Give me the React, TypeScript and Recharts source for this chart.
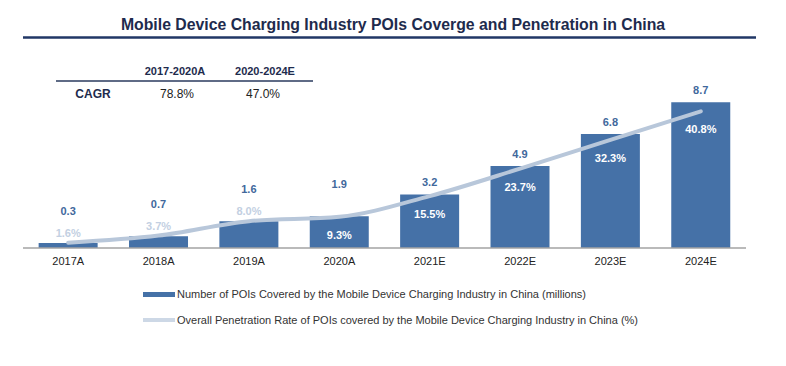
import React from 'react';
import { ComposedChart, Bar, Line, XAxis, YAxis, LabelList, Legend } from 'recharts';

// ---- data ----
const categories = ['2017A', '2018A', '2019A', '2020A', '2021E', '2022E', '2023E', '2024E'];
const poiMillions = [0.3, 0.7, 1.6, 1.9, 3.2, 4.9, 6.8, 8.7];
const penetrationPct = [1.6, 3.7, 8.0, 9.3, 15.5, 23.7, 32.3, 40.8];
const cagrPeriods = ['2017-2020A', '2020-2024E'];
const cagrValues = ['78.8%', '47.0%'];
const cagrLabel = 'CAGR';
const seriesNames = [
  'Number of POIs Covered by the Mobile Device Charging Industry in China (millions)',
  'Overall Penetration Rate of POIs covered by the Mobile Device Charging Industry in China (%)',
];
const title = 'Mobile Device Charging Industry POIs Coverge and Penetration in China';

const data = categories.map((c, i) => ({ category: c, pois: poiMillions[i], rate: penetrationPct[i] }));

// ---- styles ----
const FONT = '"Liberation Sans", Arial, Helvetica, sans-serif';
const NAVY = '#1e2b4d';
const BAR = '#4571a7';
const BAR_LABEL = '#41689c';
const LINE = '#b8c7da';
const LINE_LABEL = '#c3d0e2';
const INSIDE_MIN = 1.7; // bars taller than this (millions) hold the rate label inside

const getBox = (props: any) => {
  const vb = props.viewBox || {};
  return {
    x: props.x ?? vb.x ?? 0,
    y: props.y ?? vb.y ?? 0,
    width: props.width ?? vb.width ?? 0,
  };
};

const BarValueLabel = (props: any) => {
  const { index, value } = props;
  const { x, y, width } = getBox(props);
  const actual = categories[index] && categories[index].endsWith('A');
  const cy = y - (actual ? 32 : 12);
  return (
    <text x={x + width / 2} y={cy} textAnchor="middle" dominantBaseline="central"
      fill={BAR_LABEL} fontFamily={FONT} fontWeight={700} fontSize={11}>
      {Number(value).toFixed(1)}
    </text>
  );
};

const RateLabel = (props: any) => {
  const { index, value } = props;
  const { x, y } = getBox(props);
  const inside = poiMillions[index] >= INSIDE_MIN;
  const cy = inside ? y + 18 : y - 10;
  return (
    <text x={x} y={cy} textAnchor="middle" dominantBaseline="central"
      fill={inside ? '#ffffff' : LINE_LABEL} fontFamily={FONT} fontWeight={700} fontSize={11}>
      {Number(value).toFixed(1)}%
    </text>
  );
};

const LegendContent = () => (
  <div style={{ position: 'relative', width: 786, height: 50, fontFamily: FONT }}>
    {seriesNames.map((name, i) => (
      <div key={name} style={{ position: 'absolute', left: 143, top: 12 + 26 * i - 7, height: 14, display: 'flex', alignItems: 'center' }}>
        <div style={{ width: 32, height: i === 0 ? 5 : 4, background: i === 0 ? BAR : '#cdd8e6', marginRight: 2 }} />
        <span style={{ fontSize: 11, color: '#333', whiteSpace: 'nowrap' }}>{name}</span>
      </div>
    ))}
  </div>
);

export default function App() {
  return (
    <div style={{ position: 'absolute', left: 0, top: 0, width: 786, height: 366, background: '#fff' }}>
      <ComposedChart width={786} height={366} data={data}
        margin={{ top: 80.5, right: 40, left: 23, bottom: 34 }} barCategoryGap="17.3%">
        <XAxis dataKey="category" interval={0} tickLine={false} height={34}
          axisLine={{ stroke: '#a3a3a3', strokeWidth: 1.5 }}
          tick={{ fontSize: 11, fill: '#222', fontFamily: FONT }} tickMargin={3} />
        <YAxis yAxisId="left" domain={[0, 10]} hide />
        <YAxis yAxisId="right" orientation="right" domain={[0, 50]} hide />
        <Bar yAxisId="left" dataKey="pois" name={seriesNames[0]} fill={BAR} isAnimationActive={false}>
          <LabelList dataKey="pois" content={BarValueLabel} />
        </Bar>
        <Line yAxisId="right" dataKey="rate" name={seriesNames[1]} type="monotone" stroke={LINE}
          strokeWidth={4} strokeLinecap="round" dot={false} activeDot={false} isAnimationActive={false}>
          <LabelList dataKey="rate" content={RateLabel} />
        </Line>
        <Legend verticalAlign="bottom" content={LegendContent}
          wrapperStyle={{ left: 0, width: 786, height: 50 }} />
      </ComposedChart>
      <svg width={786} height={366} style={{ position: 'absolute', left: 0, top: 0, pointerEvents: 'none' }}>
        <text x={393} y={24.5} textAnchor="middle" dominantBaseline="central" fill={NAVY}
          fontFamily={FONT} fontWeight={700} fontSize={15.8}>{title}</text>
        <line x1={23} x2={756} y1={37.5} y2={37.5} stroke="#213766" strokeWidth={2.5} />
        <text x={175} y={71} textAnchor="middle" dominantBaseline="central" fill={NAVY}
          fontFamily={FONT} fontWeight={700} fontSize={11}>{cagrPeriods[0]}</text>
        <text x={265} y={71} textAnchor="middle" dominantBaseline="central" fill={NAVY}
          fontFamily={FONT} fontWeight={700} fontSize={11}>{cagrPeriods[1]}</text>
        <line x1={56} x2={313} y1={81} y2={81} stroke="#2a3a5e" strokeWidth={1.5} />
        <text x={93} y={94} textAnchor="middle" dominantBaseline="central" fill={NAVY}
          fontFamily={FONT} fontWeight={700} fontSize={12}>{cagrLabel}</text>
        <text x={177} y={94} textAnchor="middle" dominantBaseline="central" fill="#222"
          fontFamily={FONT} fontSize={12}>{cagrValues[0]}</text>
        <text x={263} y={94} textAnchor="middle" dominantBaseline="central" fill="#222"
          fontFamily={FONT} fontSize={12}>{cagrValues[1]}</text>
      </svg>
    </div>
  );
}
